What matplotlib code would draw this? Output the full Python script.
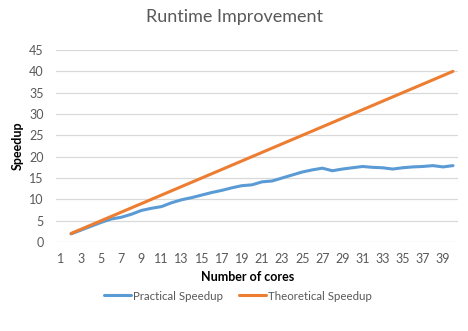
import matplotlib
matplotlib.use('Agg')
import matplotlib.pyplot as plt

# data
cores = list(range(2, 41))
practical = [1.9, 2.8, 3.7, 4.6, 5.4, 5.8, 6.5, 7.4, 7.9, 8.3,
             9.2, 9.9, 10.4, 11.0, 11.6, 12.1, 12.7, 13.2, 13.4, 14.1,
             14.3, 15.0, 15.7, 16.4, 16.9, 17.3, 16.7, 17.1, 17.4, 17.7,
             17.5, 17.4, 17.1, 17.4, 17.6, 17.7, 17.9, 17.6, 17.9]
theoretical = [2, 3, 4, 5, 6, 7, 8, 9, 10, 11,
               12, 13, 14, 15, 16, 17, 18, 19, 20, 21,
               22, 23, 24, 25, 26, 27, 28, 29, 30, 31,
               32, 33, 34, 35, 36, 37, 38, 39, 40]
xticks = list(range(1, 40, 2))
yticks = list(range(0, 50, 5))

plt.rcParams['font.family'] = ['Lato', 'DejaVu Sans']
grey = '#595959'
W, H = 468, 331

fig = plt.figure(figsize=(W / 100, H / 100), dpi=100)
ax = fig.add_axes([56 / W, 1 - 242 / H, 402 / W, 192 / H])

ax.plot(cores, practical, color='#5B9BD5', lw=2.2, solid_capstyle='round',
        label='Practical Speedup')
ax.plot(cores, theoretical, color='#ED7D31', lw=2.2, solid_capstyle='round',
        label='Theoretical Speedup')

ax.set_xlim(0.5, 40.5)
ax.set_ylim(0, 45)
ax.set_xticks(xticks)
ax.set_yticks(yticks)
ax.tick_params(length=0, labelsize=9, colors=grey, pad=8)
ax.tick_params(axis='y', pad=9)
ax.grid(axis='y', color='#D9D9D9', lw=0.9)
ax.set_axisbelow(True)
for s in ax.spines.values():
    s.set_visible(False)

fig.text(248 / W, 1 - 277 / H, 'Number of cores', fontsize=9,
         fontweight='bold', ha='center', va='center')
fig.text(18 / W, 1 - 146 / H, 'Speedup', fontsize=9, fontweight='bold',
         rotation=90, ha='center', va='center')
fig.text(234 / W, 1 - 17 / H, 'Runtime Improvement', fontsize=13,
         color=grey, ha='center', va='center')

fig.legend(loc='center', bbox_to_anchor=(238 / W, 1 - 296 / H), ncol=2,
           frameon=False, fontsize=8.3, handlelength=2.3, handletextpad=0.2,
           columnspacing=1.4, labelcolor=grey)

fig.savefig('out.png', dpi=100)
